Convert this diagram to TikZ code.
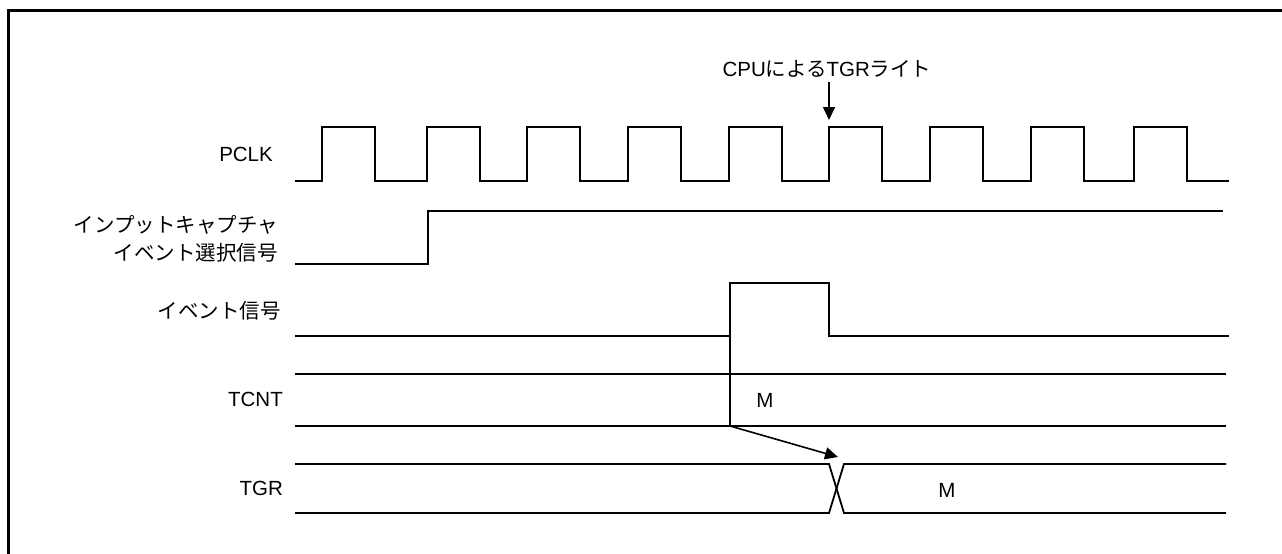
\documentclass[tikz,border=0pt]{standalone}
\usepackage{fontspec}
\setmainfont{Liberation Sans}
\newfontfamily\jp{Noto Sans CJK JP}
\usetikzlibrary{arrows.meta}
\begin{document}
\begin{tikzpicture}[x=1pt,y=-1pt,
  sig/.style={line width=1.8pt, line join=miter},
  lbl/.style={font=\fontsize{20.5}{28}\selectfont, inner sep=0pt},
  arr/.style={line width=1.6pt, -{Triangle[length=13pt,width=12pt]}}]
\useasboundingbox (0,0) rectangle (1282,554);
% frame
\draw[line width=3pt] (8.5,560) -- (8.5,10.5) -- (1290,10.5);
% labels
\node[lbl, anchor=east] (lpclk) at (273,154) {PCLK};
\node[lbl, anchor=east, align=right] (lsel) at (278,239) {{\jp インプットキャプチャ}\\{\jp イベント選択信号}};
\node[lbl, anchor=east] (levt) at (281,311) {\jp イベント信号};
\node[lbl, anchor=east] (ltcnt) at (283,399) {TCNT};
\node[lbl, anchor=east] (ltgr) at (283,488) {TGR};
% PCLK
\draw[sig] (295,181) \foreach \r in {322,427,527,628,729,829,930,1031,1134}{ -- (\r,181) -- (\r,127) -- (\r+53,127) -- (\r+53,181)} -- (1229,181);
% input capture event select
\draw[sig] (295,264) -- (428,264) -- (428,211) -- (1223,211);
% event signal
\draw[sig] (295,336) -- (730,336) -- (730,283) -- (829,283) -- (829,336) -- (1229,336);
\draw[sig] (730,336) -- (730,426);
% TCNT
\draw[sig] (295,374) -- (1226,374);
\draw[sig] (295,426) -- (1226,426);
\node[lbl] (tcntm) at (765,400) {M};
% TGR
\draw[sig] (295,464) -- (829,464) -- (844,513) -- (1226,513);
\draw[sig] (295,513) -- (829,513) -- (844,464) -- (1226,464);
\node[lbl] (tgrm) at (947,490) {M};
% TCNT -> TGR arrow
\coordinate (a0) at (730,426);
\coordinate (a1) at (838,457);
\draw[arr] (a0) -- (a1);
% CPU write
\node[lbl] (cpu) at (827,69) {CPU{\jp による}TGR{\jp ライト}};
\coordinate (cpuarr) at (829,120);
\draw[arr] (cpu.south -| cpuarr) ++(0,4) -- (cpuarr);
\end{tikzpicture}
\end{document}
